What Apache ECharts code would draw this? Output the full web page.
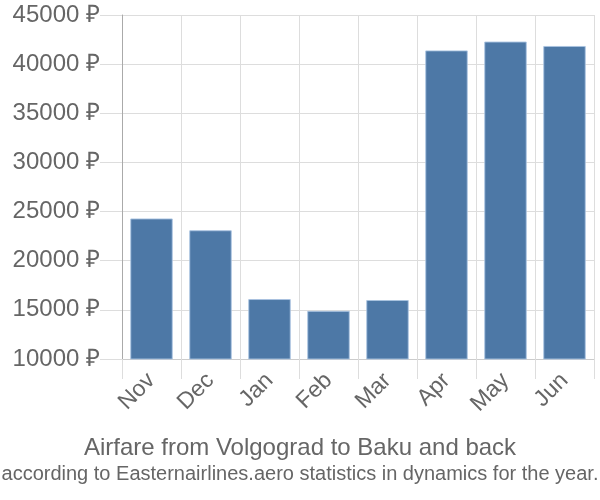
<!DOCTYPE html>
<html><head><meta charset="utf-8">
<script src="https://cdn.jsdelivr.net/npm/echarts@6/dist/echarts.min.js"></script>
<style>html,body{margin:0;padding:0;background:#fff}#c{width:600px;height:500px}</style>
</head><body><div id="c"></div>
<script>
const categories = ['Nov','Dec','Jan','Feb','Mar','Apr','May','Jun'];
const prices = [24300, 23100, 16100, 14900, 16000, 41400, 42300, 41850];
const yMin = 10000, yMax = 45000, yStep = 5000;
const titleText = 'Airfare from Volgograd to Baku and back';
const subText = 'according to Easternairlines.aero statistics in dynamics for the year.';

const chart = echarts.init(document.getElementById('c'), null, {renderer:'canvas'});
chart.setOption({
  animation: false,
  textStyle: {fontFamily: 'Liberation Sans, Arial, sans-serif'},
  title: {
    text: titleText, subtext: subText, left: 'center', top: 431, itemGap: 4,
    textStyle: {fontSize: 24, fontWeight: 'normal', color: '#666'},
    subtextStyle: {fontSize: 20, color: '#666'}
  },
  grid: {left: 122, right: 6, top: 15, bottom: 141, containLabel: false},
  xAxis: {
    type: 'category', data: categories,
    axisLine: {lineStyle: {color: '#ccc'}},
    axisTick: {show: true, length: 20, lineStyle: {color: '#ddd'}},
    splitLine: {show: true, lineStyle: {color: '#ddd'}},
    axisLabel: {rotate: 45, fontSize: 23, color: '#666', margin: 18}
  },
  yAxis: {
    type: 'value', min: yMin, max: yMax, interval: yStep,
    axisLine: {show: true, lineStyle: {color: '#aaa'}},
    axisTick: {show: true, length: 22, lineStyle: {color: '#ddd'}},
    splitLine: {show: true, lineStyle: {color: '#ddd'}},
    axisLabel: {fontSize: 24, color: '#666', margin: 22, formatter: v => v + ' ₽'}
  },
  series: [{
    type: 'bar', data: prices, barCategoryGap: '28%',
    itemStyle: {color: '#4d78a6', borderColor: 'rgba(170,195,225,0.9)', borderWidth: 1}
  }]
});
</script></body></html>
